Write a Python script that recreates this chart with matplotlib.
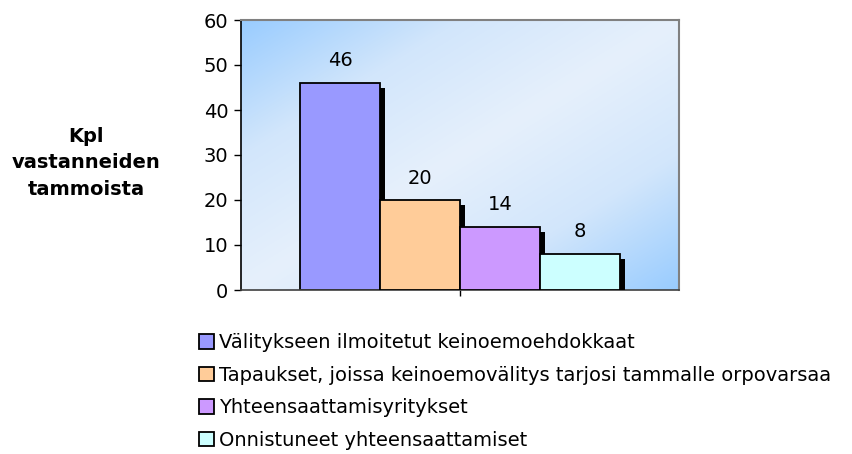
import matplotlib
matplotlib.use("Agg")
import matplotlib.pyplot as plt
import matplotlib.patheffects as pe
import numpy as np
from matplotlib.colors import LinearSegmentedColormap

plt.rcParams['font.family'] = ['DejaVu Sans']

categories = ["Välitykseen ilmoitetut keinoemoehdokkaat",
              "Tapaukset, joissa keinoemovälitys tarjosi tammalle orpovarsaa",
              "Yhteensaattamisyritykset",
              "Onnistuneet yhteensaattamiset"]
values = [46, 20, 14, 8]
colors = ["#9999FF", "#FFCC99", "#CC99FF", "#CCFFFF"]
yticks = [0, 10, 20, 30, 40, 50, 60]
ylabel = "Kpl\nvastanneiden\ntammoista"

FS = 14

fig = plt.figure(figsize=(8.53, 4.54), dpi=100)
ax = fig.add_axes([241/853, 1-290/454, 438/853, 270/454])

# background gradient (blue at top-left and bottom-right, light in the middle)
n = 200
xx, yy = np.meshgrid(np.linspace(0, 1, n), np.linspace(0, 1, n))
u = (xx + yy) / 2
grad = np.abs(u - 0.5) * 2
cmap = LinearSegmentedColormap.from_list("bg", ["#E6F0FC", "#D2E6FB", "#99CCFF"])
ax.imshow(grad, cmap=cmap, extent=[-0.5, 0.5, 0, 60], origin='upper', aspect='auto',
          zorder=0, vmin=0, vmax=1, interpolation='bilinear')

w = 80/438
offsets = [(-1.5 + i) * w for i in range(len(values))]
for i, (off, v, c, lab) in enumerate(zip(offsets, values, colors, categories)):
    b = ax.bar(off, v, width=w, color=c, edgecolor='black', linewidth=1.3, label=lab, zorder=2 + i)
    b[0].set_path_effects([pe.SimplePatchShadow(offset=(3.4, -3.8), shadow_rgbFace='black', alpha=1.0),
                           pe.Normal()])
    ax.annotate(str(v), (off, v), xytext=(0, 9), textcoords='offset points',
                ha='center', va='bottom', fontsize=FS, zorder=10)

ax.set_xlim(-0.5, 0.5)
ax.set_ylim(0, 60)
ax.set_yticks(yticks)
ax.set_xticks([0])
ax.set_xticklabels([""])
ax.tick_params(axis='both', direction='out', length=5, width=1, labelsize=FS, pad=4)
ax.tick_params(axis='x', length=4)
ax.spines['left'].set_color('black')
ax.spines['bottom'].set_color('#404040')
for s in ['left', 'bottom']:
    ax.spines[s].set_linewidth(1.2)
for s in ['top', 'right']:
    ax.spines[s].set_color('#808080')
    ax.spines[s].set_linewidth(1.5)

fig.text(86/853, 1-163/454, ylabel, ha='center', va='center', fontsize=FS,
         fontweight='bold', linespacing=1.5)

handles, labels = ax.get_legend_handles_labels()
leg = fig.legend(handles, labels, loc='upper left', bbox_to_anchor=(199/853, 1-333/454),
                 frameon=False, fontsize=FS, handlelength=0.78, handleheight=0.78,
                 handletextpad=0.26, labelspacing=0.7, borderaxespad=0, borderpad=0)
for h in leg.legend_handles:
    h.set_path_effects([])
    h.set_linewidth(1.3)

fig.savefig("out.png", dpi=100)
